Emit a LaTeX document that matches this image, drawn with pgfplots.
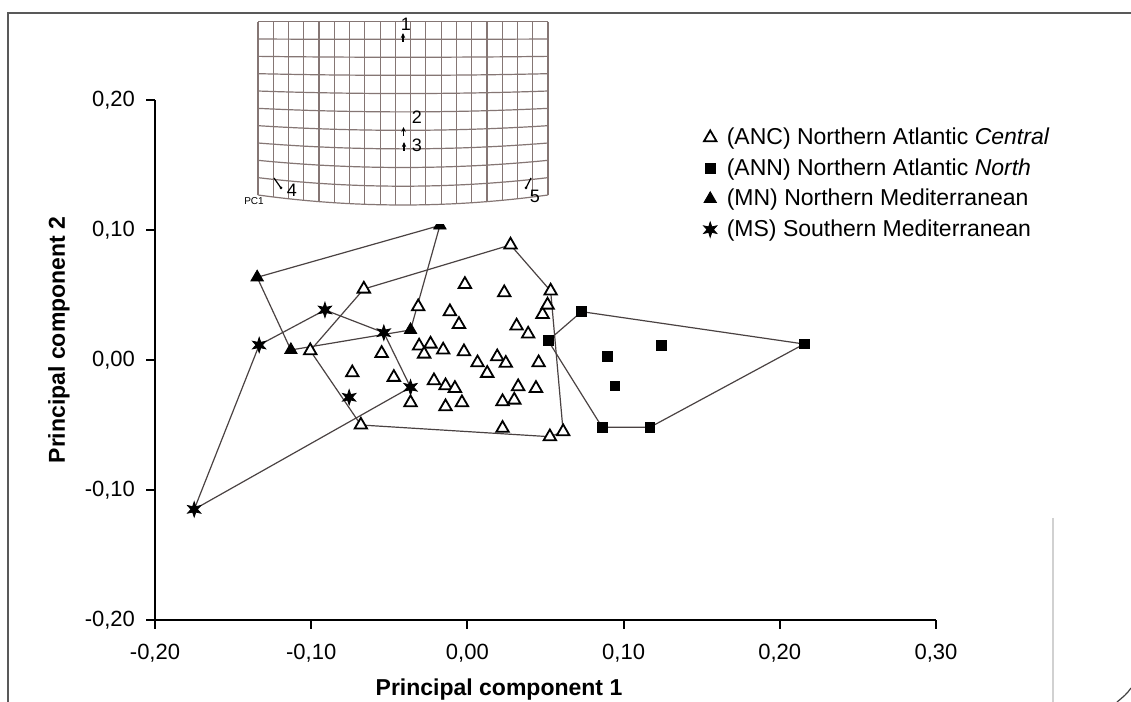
\documentclass[border=0pt]{standalone}
\usepackage{pgfplots}
\pgfplotsset{compat=1.18}
\usepackage{fontspec}
\setmainfont{Liberation Sans}
\usetikzlibrary{arrows.meta}

\definecolor{gridc}{HTML}{857674}
\definecolor{hullc}{HTML}{4A4242}

% filled six-pointed star for the MS group
\pgfdeclareplotmark{sixstar}{%
  \pgfpathmoveto{\pgfpointpolar{90}{\pgfplotmarksize}}%
  \pgfpathlineto{\pgfpointpolar{120}{0.42\pgfplotmarksize}}%
  \pgfpathlineto{\pgfpointpolar{150}{\pgfplotmarksize}}%
  \pgfpathlineto{\pgfpointpolar{180}{0.42\pgfplotmarksize}}%
  \pgfpathlineto{\pgfpointpolar{210}{\pgfplotmarksize}}%
  \pgfpathlineto{\pgfpointpolar{240}{0.42\pgfplotmarksize}}%
  \pgfpathlineto{\pgfpointpolar{270}{\pgfplotmarksize}}%
  \pgfpathlineto{\pgfpointpolar{300}{0.42\pgfplotmarksize}}%
  \pgfpathlineto{\pgfpointpolar{330}{\pgfplotmarksize}}%
  \pgfpathlineto{\pgfpointpolar{0}{0.42\pgfplotmarksize}}%
  \pgfpathlineto{\pgfpointpolar{30}{\pgfplotmarksize}}%
  \pgfpathlineto{\pgfpointpolar{60}{0.42\pgfplotmarksize}}%
  \pgfpathclose
  \pgfusepathqfillstroke}

\begin{document}
\begin{tikzpicture}
\begin{axis}[
  at={(77.5pt,41pt)}, anchor=south west,
  scale only axis, width=390.5pt, height=260pt,
  xmin=-0.2, xmax=0.3, ymin=-0.2, ymax=0.2,
  axis lines=left, axis line style={-, line width=1.1pt},
  tick align=outside, major tick length=4.5pt,
  tick style={line width=1pt, black},
  xtick={-0.2,-0.1,0,0.1,0.2,0.3},
  xticklabels={{-0,20},{-0,10},{0,00},{0,10},{0,20},{0,30}},
  ytick={-0.2,-0.1,0,0.1,0.2},
  yticklabels={{-0,20},{-0,10},{0,00},{0,10},{0,20}},
  ticklabel style={font=\fontsize{11}{13}\selectfont},
  xticklabel style={yshift=-4pt},
  yticklabel style={xshift=-2pt},
  clip=false,
  legend cell align=left,
  legend style={at={(axis description cs:0.702,0.955)}, anchor=north west,
    draw=none, fill=none, inner sep=0pt, row sep=1.5pt,
    font=\fontsize{11.5}{14}\selectfont,
    /tikz/every odd column/.append style={column sep=3pt}},
  legend image code/.code={\draw[#1,only marks] plot coordinates {(0pt,0pt)};},
]
% group outlines
\addplot[hullc, line width=0.6pt, forget plot] coordinates {
  (-0.1006,0.0072) (-0.0663,0.0546) (0.0276,0.0885) (0.0533,0.0531)
  (0.0613,-0.0551) (0.0528,-0.059) (-0.0682,-0.050) (-0.1006,0.0072)};
\addplot[hullc, line width=0.6pt, forget plot] coordinates {
  (0.0731,0.0372) (0.2156,0.0123) (0.1168,-0.0518) (0.0863,-0.0518)
  (0.0517,0.0149) (0.0731,0.0372)};
\addplot[hullc, line width=0.6pt, forget plot] coordinates {
  (-0.1346,0.0636) (-0.0176,0.1035) (-0.0364,0.0231) (-0.113,0.0077) (-0.1346,0.0636)};
\addplot[hullc, line width=0.6pt, forget plot] coordinates {
  (-0.1749,-0.1149) (-0.1333,0.0115) (-0.0912,0.0385) (-0.0535,0.021)
  (-0.0364,-0.021) (-0.1749,-0.1149)};

% ANC
\addplot[only marks, mark=triangle*, mark size=3.6pt,
  mark options={fill=white, draw=black, line width=0.9pt}] coordinates {
  (-0.1006,0.0072) (-0.0663,0.0546) (-0.0737,-0.0098) (-0.0682,-0.050)
  (-0.0549,0.0051) (-0.0471,-0.0133) (-0.0364,-0.0328) (-0.0315,0.041)
  (-0.0309,0.0108) (-0.0236,0.0123) (-0.0277,0.0046) (-0.0214,-0.0159)
  (-0.0155,0.0077) (-0.014,-0.0198) (-0.014,-0.0359) (-0.0112,0.0372)
  (-0.008,-0.0218) (-0.0054,0.0274) (-0.0035,-0.0328) (-0.0022,0.0064)
  (-0.0016,0.0582) (0.0065,-0.0021) (0.0127,-0.0102) (0.0191,0.0025)
  (0.0225,-0.032) (0.0225,-0.0525) (0.0236,0.0518) (0.0246,-0.0025)
  (0.0276,0.0885) (0.030,-0.0308) (0.0315,0.0262) (0.0325,-0.0205)
  (0.0389,0.020) (0.0439,-0.0218) (0.0456,-0.0021) (0.0481,0.0351)
  (0.0513,0.0423) (0.0533,0.0531) (0.0528,-0.059) (0.0613,-0.0551)};
\addlegendentry{(ANC) Northern Atlantic \textit{Central}}
% ANN
\addplot[only marks, mark=square*, mark size=2.4pt,
  mark options={fill=black, draw=black}] coordinates {
  (0.0731,0.0372) (0.0517,0.0149) (0.0895,0.0026) (0.1243,0.011)
  (0.0944,-0.020) (0.0863,-0.0518) (0.1168,-0.0518) (0.2156,0.0123)};
\addlegendentry{(ANN) Northern Atlantic \textit{North}}
% MN
\addplot[only marks, mark=triangle*, mark size=3.6pt,
  mark options={fill=black, draw=black}] coordinates {
  (-0.1346,0.0636) (-0.0176,0.1035) (-0.0364,0.0231) (-0.113,0.0077)};
\addlegendentry{(MN) Northern Mediterranean}
% MS
\addplot[only marks, mark=sixstar, mark size=3.8pt,
  mark options={fill=black, draw=black}] coordinates {
  (-0.1749,-0.1149) (-0.1333,0.0115) (-0.0912,0.0385) (-0.0535,0.021)
  (-0.0364,-0.021) (-0.0757,-0.0287)};
\addlegendentry{(MS) Southern Mediterranean}
\end{axis}

% pixel frame: (0,0) top left, 1 unit = 0.5pt
\begin{scope}[shift={(0pt,351pt)}, x=0.5pt, y=-0.5pt]
  \node[font=\bfseries\fontsize{11.5}{14}\selectfont] at (499,690) {Principal component 1};
  \node[rotate=90, font=\bfseries\fontsize{11.5}{14}\selectfont] at (59,340) {Principal component 2};

  % inset: PC1 deformation grid
  \fill[white] (245,15) rectangle (560,224);
  \foreach \j in {0,...,10} {
    \draw[gridc, line width=0.6pt] plot[domain=258:548, samples=25]
      (\x, {21.7 + \j*17.33 + 10*(\j/10)^1.5*(1-((\x-403)/145)^2)});
  }
  \foreach \i in {0,...,19} {
    \pgfmathsetmacro\gx{258+\i*290/19}
    \pgfmathsetmacro\gb{195.0 + 10*(1-((\gx-403)/145)^2)}
    \draw[gridc, line width=0.6pt] (\gx,21.7) -- (\gx,\gb);
  }
  \draw[line width=0.6pt, -{Stealth[length=2.5pt,width=2.2pt]}] (403,42) -- (403,33);
  \draw[line width=0.6pt, -{Stealth[length=2.5pt,width=2.2pt]}] (403.5,136) -- (403.5,127);
  \draw[line width=0.6pt, -{Stealth[length=2.5pt,width=2.2pt]}] (404,151) -- (404,142);
  \draw[line width=0.6pt] (274,178) -- (281,188); \fill (281,188) circle (1.5);
  \draw[line width=0.6pt] (531,178) -- (526,188); \fill (526,188) circle (1.5);
  \begin{scope}[font=\fontsize{9}{10}\selectfont]
    \node at (406,24) {1};
    \node at (417,117) {2};
    \node at (417,145) {3};
    \node at (292,190) {4};
    \node at (535,196) {5};
  \end{scope}
  \node[font=\fontsize{5}{6}\selectfont] at (254,201) {PC1};

  % page frame remnants
  \draw[black!65, line width=1pt] (8,702) -- (8,13) -- (1131,13);
  \draw[black!18, line width=1pt] (1053,518) -- (1053,702);
  \draw[black!75, line width=0.6pt] (1117,702) .. controls (1123,697) and (1127,694) .. (1131,688);

  \pgfresetboundingbox
  \useasboundingbox (0,0) rectangle (1131,702);
\end{scope}
\end{tikzpicture}
\end{document}
